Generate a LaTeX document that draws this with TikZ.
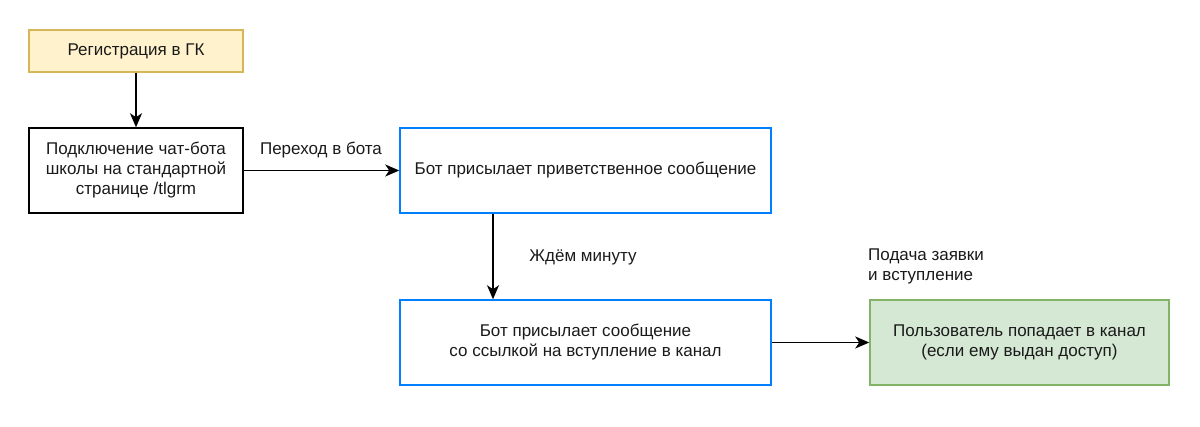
\documentclass[tikz,border=0pt]{standalone}
\usepackage{fontspec}
\setmainfont{Liberation Sans}
\usetikzlibrary{arrows.meta}
\definecolor{yfill}{HTML}{FFF2CC}
\definecolor{ydraw}{HTML}{D6B656}
\definecolor{gfill}{HTML}{D5E8D4}
\definecolor{gdraw}{HTML}{82B366}
\definecolor{bdraw}{HTML}{007FFF}
\definecolor{txt}{HTML}{1A1A1A}
\begin{document}
\begin{tikzpicture}[x=1pt,y=-1pt,
  every node/.style={font=\fontsize{17}{20}\selectfont, text=txt},
  box/.style={draw, line width=1.5pt, align=center, inner sep=0pt},
  conn/.style={line width=1.5pt, -{Stealth[length=14pt,width=12pt,inset=4pt]}},
  lbl/.style={inner sep=0pt}]
\useasboundingbox (0,0) rectangle (1200,427);
\node[box, fill=yfill, draw=ydraw, minimum width=214pt, minimum height=42pt] (reg) at (136,51) {Регистрация в ГК};
\node[box, draw=black, minimum width=214pt, minimum height=85pt] (pod) at (136,170.5) {Подключение чат-бота\\школы на стандартной\\странице /tlgrm};
\node[box, draw=bdraw, minimum width=371pt, minimum height=85pt] (b1) at (585.5,170.5) {Бот присылает приветственное сообщение};
\node[box, draw=bdraw, minimum width=371pt, minimum height=85pt] (b2) at (585.5,342.5) {Бот присылает сообщение\\со ссылкой на вступление в канал};
\node[box, fill=gfill, draw=gdraw, minimum width=299pt, minimum height=85pt] (usr) at (1019.5,342.5) {Пользователь попадает в канал\\(если ему выдан доступ)};
\draw[conn] (reg) -- (pod);
\draw[conn] (pod) -- (b1);
\draw[conn] (b1.south -| 493,0) -- (b2.north -| 493,0);
\draw[conn] (b2) -- (usr);
\node[lbl] (l1) at (321,150) {Переход в бота};
\node[lbl] (l2) at (583,257) {Ждём минуту};
\node[lbl, anchor=west, align=left] (l3) at (868,266) {Подача заявки\\и вступление};
\end{tikzpicture}
\end{document}
